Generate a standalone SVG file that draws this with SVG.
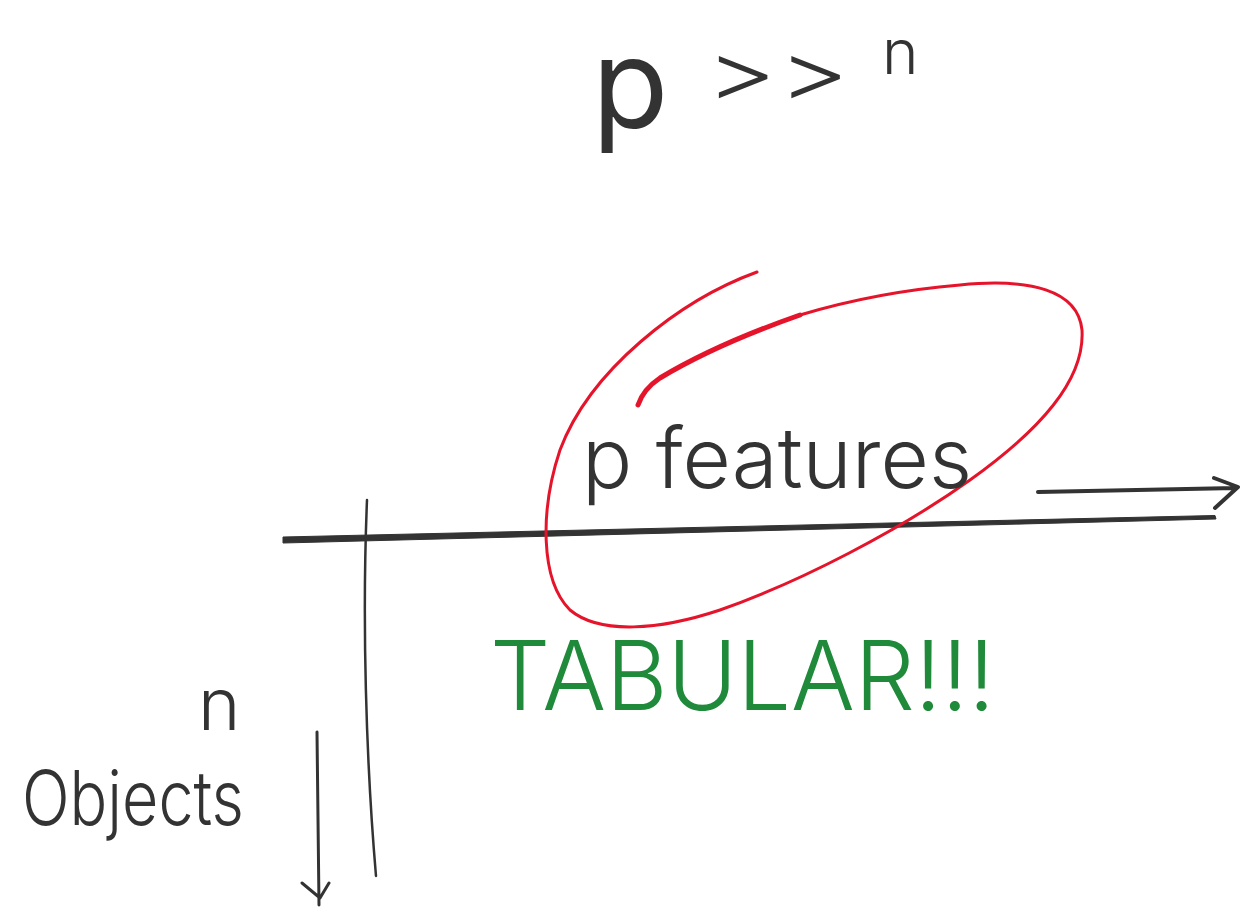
<svg xmlns="http://www.w3.org/2000/svg" width="1258" height="917" viewBox="0 0 1258 917">
<style>
.ink{fill:none;stroke:#333;stroke-linecap:round;stroke-linejoin:round}
.hand{font-family:Inter,"Liberation Sans","DejaVu Sans",sans-serif;font-weight:300;fill:#333}
.red{fill:none;stroke:#e5142a;stroke-linecap:round;stroke-linejoin:round}
</style>
<rect width="1258" height="917" fill="#fff"/>
<g id="title">
<text class="hand" x="592" y="128" font-size="125" style="font-weight:400">p</text>
<text class="hand" x="705" y="100" font-size="80" textLength="145" lengthAdjust="spacingAndGlyphs">&gt;&gt;</text>
<text class="hand" x="882" y="74" font-size="62">n</text>
</g>
<g id="connectors">
<path d="M283 537 L1215 515.5 L1216 519 L283 543 Z" fill="#333" stroke="#333" stroke-width="1" stroke-linejoin="round"/>
<path class="ink" d="M367 500 C362 620 366 760 376 876" stroke-width="2.5"/>
<path class="ink" d="M1038 492 L1236 488 M1214 478 L1238 487 L1215 508" stroke-width="4"/>
<path class="ink" d="M317 732 L319 905 M302 883 L320 898 L329 883" stroke-width="3"/>
</g>
<g id="circle">
<path class="red" stroke-width="3" d="M757 272 C680 300 590 370 560 450 C540 510 540 580 570 610 C600 635 660 630 720 610 C800 582 900 530 970 480 C1040 430 1085 380 1082 330 C1078 290 1030 278 960 285 C900 290 850 300 800 315"/>
<path class="red" stroke-width="5" d="M800 315 C740 336 690 360 660 378 C648 386 641 396 638 405"/>
</g>
<g id="features">
<text class="hand" x="582" y="488" font-size="84" textLength="390" lengthAdjust="spacingAndGlyphs">p features</text>
</g>
<g id="tabular">
<text class="hand" x="490" y="710" font-size="96" textLength="505" lengthAdjust="spacingAndGlyphs" style="fill:#1f8a3a">TABULAR!!!</text>
</g>
<g id="objects">
<text class="hand" x="198" y="730" font-size="72">n</text>
<text class="hand" x="22" y="825" font-size="76" textLength="222" lengthAdjust="spacingAndGlyphs">Objects</text>
</g>
</svg>
